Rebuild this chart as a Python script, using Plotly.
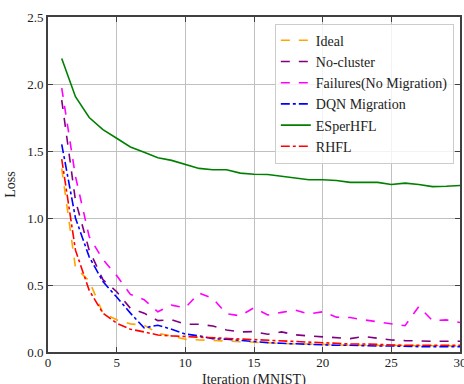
import plotly.graph_objects as go

iterations = list(range(1, 31))

ideal = [1.37, 0.63, 0.53, 0.29, 0.24, 0.21, 0.20, 0.14, 0.12, 0.095,
         0.09, 0.085, 0.085, 0.08, 0.075, 0.07, 0.065, 0.06, 0.06, 0.055,
         0.055, 0.05, 0.05, 0.05, 0.045, 0.045, 0.045, 0.045, 0.045, 0.045]
no_cluster = [1.88, 1.13, 0.76, 0.54, 0.45, 0.326, 0.29, 0.234, 0.24, 0.207,
              0.207, 0.194, 0.164, 0.15, 0.152, 0.132, 0.15, 0.128, 0.12, 0.115,
              0.105, 0.10, 0.115, 0.10, 0.09, 0.085, 0.08, 0.08, 0.08, 0.08]
failures = [1.97, 1.31, 0.86, 0.69, 0.57, 0.43, 0.39, 0.30, 0.35, 0.33,
            0.44, 0.40, 0.285, 0.27, 0.33, 0.276, 0.296, 0.313, 0.284, 0.30,
            0.26, 0.257, 0.24, 0.227, 0.214, 0.196, 0.34, 0.234, 0.24, 0.22]
dqn = [1.55, 1.00, 0.71, 0.525, 0.41, 0.29, 0.18, 0.20, 0.17, 0.134,
       0.12, 0.10, 0.095, 0.085, 0.075, 0.07, 0.065, 0.06, 0.055, 0.05,
       0.05, 0.05, 0.045, 0.045, 0.045, 0.04, 0.04, 0.04, 0.04, 0.04]
esperhfl = [2.19, 1.905, 1.75, 1.66, 1.595, 1.53, 1.49, 1.45, 1.43, 1.40,
            1.37, 1.36, 1.36, 1.335, 1.326, 1.325, 1.31, 1.30, 1.285, 1.285,
            1.28, 1.266, 1.266, 1.266, 1.25, 1.26, 1.25, 1.234, 1.237, 1.243]
rhfl = [1.44, 0.76, 0.46, 0.29, 0.215, 0.17, 0.15, 0.127, 0.12, 0.115,
        0.11, 0.105, 0.10, 0.095, 0.09, 0.085, 0.08, 0.075, 0.07, 0.065,
        0.06, 0.06, 0.06, 0.055, 0.05, 0.05, 0.05, 0.05, 0.05, 0.05]

series = [
    ("Ideal", ideal, "#FFA500", "dash"),
    ("No-cluster", no_cluster, "#800080", "dash"),
    ("Failures(No Migration)", failures, "#FF00FF", "dash"),
    ("DQN Migration", dqn, "#0000FF", "dashdot"),
    ("ESperHFL", esperhfl, "#008000", "solid"),
    ("RHFL", rhfl, "#FF0000", "dashdot"),
]

fig = go.Figure()
for name, ys, color, dash in series:
    fig.add_trace(go.Scatter(x=iterations, y=ys, mode="lines", name=name,
                             line=dict(color=color, width=1.6, dash=dash)))

font_family = "Liberation Serif"
axis_common = dict(
    showgrid=True, gridcolor="#c0c0c0", gridwidth=1,
    showline=True, linecolor="#404040", linewidth=2,
    ticks="inside", ticklen=5, tickcolor="#404040", tickwidth=1,
    mirror="ticks", zeroline=False, automargin=False,
    ticklabeloverflow="allow",
    tickfont=dict(family=font_family, size=13, color="#222"),
)

fig.update_layout(
    width=464, height=384,
    margin=dict(l=48, r=4, t=17, b=32),
    paper_bgcolor="white", plot_bgcolor="white",
    font=dict(family=font_family, size=13, color="#222"),
    xaxis=dict(range=[0, 30], tickvals=[0, 5, 10, 15, 20, 25, 30],
               ticklabelstandoff=-3,
               **axis_common),
    yaxis=dict(range=[0, 2.5], tickvals=[0, 0.5, 1.0, 1.5, 2.0, 2.5],
               tickformat=".1f",
               title=dict(text="Loss", font=dict(size=14), standoff=8),
               **axis_common),
    legend=dict(x=0.985, y=0.98, xanchor="right", yanchor="top",
                bgcolor="rgba(255,255,255,0.8)", bordercolor="#cccccc",
                borderwidth=1, font=dict(family=font_family, size=14),
                tracegroupgap=0, itemwidth=30),
    showlegend=True,
    annotations=[dict(text="Iteration (MNIST)", xref="paper", yref="paper",
                      x=0.5, y=-0.083, xanchor="center", yanchor="middle",
                      showarrow=False, font=dict(family=font_family, size=14))],
)

fig.write_html("out.html")
